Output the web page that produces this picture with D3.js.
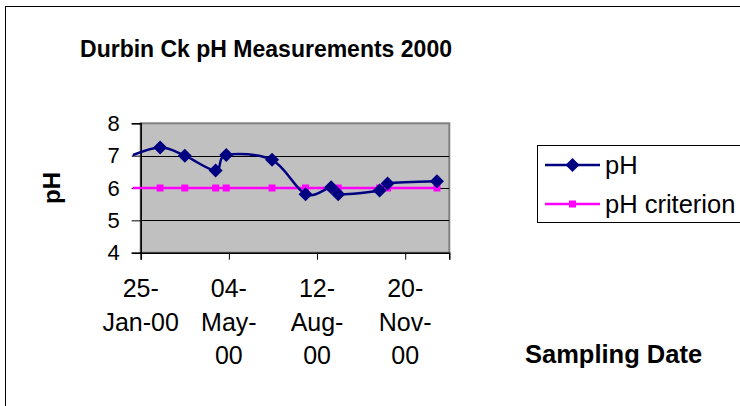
<!DOCTYPE html>
<html>
<head>
<meta charset="utf-8">
<script src="https://cdn.jsdelivr.net/npm/d3@7"></script>
<style>
  body { margin: 0; background: #fff; }
  svg { display: block; font-family: "Liberation Sans", Arial, sans-serif; }
</style>
</head>
<body>
<div id="chart"></div>
<script>
// first date sits just before the axis start, the line enters from the left edge
const sampleDates = ["2000-01-10", "2000-02-16", "2000-03-15", "2000-04-19", "2000-05-01", "2000-06-22",
  "2000-07-30", "2000-08-28", "2000-09-05", "2000-10-22", "2000-10-31", "2000-12-26"];
const phValues = [6.95, 7.25, 7.0, 6.54, 7.02, 6.87, 5.81, 6.02, 5.81, 5.92, 6.14, 6.21];
const criterionValues = [6, 6, 6, 6, 6, 6, 6, 6, 6, 6, 6, 6];
const xTickDates = ["2000-01-25", "2000-05-04", "2000-08-12", "2000-11-20"];
const xTickLabels = [["25-", "Jan-00"], ["04-", "May-", "00"], ["12-", "Aug-", "00"], ["20-", "Nov-", "00"]];
const yTicks = [4, 5, 6, 7, 8];
const seriesNames = ["pH", "pH criterion"];

const W = 740, H = 406;
const plot = { left: 140.7, right: 449.3, top: 123.3, bottom: 252.7 };
const parse = d3.timeParse("%Y-%m-%d");

const svg = d3.select("#chart").append("svg")
  .attr("width", W)
  .attr("height", H);

// chart area frame (runs off the right/bottom of the window)
svg.append("rect")
  .attr("x", 5.5).attr("y", 6.5)
  .attr("width", W).attr("height", H)
  .attr("fill", "#fff").attr("stroke", "#000");

const x = d3.scaleTime()
  .domain([parse("2000-01-25"), parse("2001-01-09")])
  .range([plot.left, plot.right]);
const y = d3.scaleLinear().domain([4, 8]).range([plot.bottom, plot.top]);

// plot area
svg.append("rect")
  .attr("x", plot.left).attr("y", plot.top)
  .attr("width", plot.right - plot.left).attr("height", plot.bottom - plot.top)
  .attr("fill", "#c0c0c0").attr("stroke", "#808080").attr("stroke-width", 2);

// gridlines
svg.append("g").selectAll("line")
  .data(yTicks.filter(d => d > 4 && d < 8))
  .join("line")
    .attr("x1", plot.left).attr("x2", plot.right)
    .attr("y1", d => Math.round(y(d)) + 0.5).attr("y2", d => Math.round(y(d)) + 0.5)
    .attr("stroke", "#000");

// y axis
const yAxis = svg.append("g")
  .attr("transform", `translate(${plot.left},0)`)
  .call(d3.axisLeft(y).tickValues(yTicks).tickSize(9).tickPadding(12).tickFormat(d3.format("d")));
yAxis.select(".domain").attr("stroke", "#000").attr("stroke-width", 1.5);
yAxis.selectAll(".tick line").attr("stroke", "#000");
yAxis.selectAll(".tick text")
  .attr("font-size", 22).attr("fill", "#000")
  .attr("font-family", "Liberation Sans, Arial, sans-serif");

// x axis
const xAxis = svg.append("g")
  .attr("transform", `translate(0,${plot.bottom})`)
  .call(d3.axisBottom(x).tickValues(xTickDates.map(parse)).tickSize(7).tickFormat(""));
xAxis.select(".domain").attr("stroke", "#000").attr("stroke-width", 1.5);
xAxis.selectAll(".tick line").attr("stroke", "#000");

const xLabels = svg.append("g")
  .attr("font-size", 25).attr("text-anchor", "middle").attr("fill", "#000");
xTickDates.forEach((d, i) => {
  const t = xLabels.append("text").attr("x", x(parse(d))).attr("y", 297);
  xTickLabels[i].forEach((line, j) => {
    t.append("tspan").attr("x", x(parse(d))).attr("dy", j === 0 ? 0 : 33.5).text(line);
  });
});

// series
svg.append("clipPath").attr("id", "clip")
  .append("rect")
    .attr("x", plot.left - 8).attr("y", 0)
    .attr("width", plot.right - plot.left + 8).attr("height", H);

const dates = sampleDates.map(parse);
const phData = dates.map((d, i) => ({ date: d, value: phValues[i] }));
const critData = dates.map((d, i) => ({ date: d, value: criterionValues[i] }));
const inside = d => d.date >= x.domain()[0];

const series = svg.append("g").attr("clip-path", "url(#clip)");

series.append("path")
  .datum(critData)
  .attr("fill", "none").attr("stroke", "#ff00ff").attr("stroke-width", 2.5)
  .attr("d", d3.line().x(d => x(d.date)).y(d => y(d.value)));

series.append("path")
  .datum(phData)
  .attr("fill", "none").attr("stroke", "#000080").attr("stroke-width", 2.5)
  .attr("d", d3.line().x(d => x(d.date)).y(d => y(d.value)).curve(d3.curveCardinal.tension(0)));

series.selectAll("rect.crit")
  .data(critData.filter(inside))
  .join("rect")
    .attr("class", "crit")
    .attr("x", d => x(d.date) - 3.5).attr("y", d => y(d.value) - 3.5)
    .attr("width", 7).attr("height", 7)
    .attr("fill", "#ff00ff");

const diamond = s => `M0,${-s}L${s},0L0,${s}L${-s},0Z`;
series.selectAll("path.ph")
  .data(phData.filter(inside))
  .join("path")
    .attr("class", "ph")
    .attr("transform", d => `translate(${x(d.date)},${y(d.value)})`)
    .attr("d", diamond(7))
    .attr("fill", "#000080");

// titles
svg.append("text")
  .attr("x", 266).attr("y", 57)
  .attr("text-anchor", "middle").attr("font-size", 23).attr("font-weight", "bold")
  .text("Durbin Ck pH Measurements 2000");

svg.append("text")
  .attr("transform", "translate(60,188) rotate(-90)")
  .attr("text-anchor", "middle").attr("font-size", 24).attr("font-weight", "bold")
  .text("pH");

svg.append("text")
  .attr("x", 525).attr("y", 363)
  .attr("font-size", 25.5).attr("font-weight", "bold")
  .text("Sampling Date");

// legend
const legend = svg.append("g");
legend.append("rect")
  .attr("x", 537.5).attr("y", 145.5)
  .attr("width", 203).attr("height", 77)
  .attr("fill", "#fff").attr("stroke", "#000");

const rowsY = [165, 204];
const colors = ["#000080", "#ff00ff"];
seriesNames.forEach((name, i) => {
  legend.append("line")
    .attr("x1", 545).attr("x2", 600)
    .attr("y1", rowsY[i]).attr("y2", rowsY[i])
    .attr("stroke", colors[i]).attr("stroke-width", 2.5);
  if (i === 0) {
    legend.append("path")
      .attr("transform", `translate(572.5,${rowsY[i]})`)
      .attr("d", diamond(7)).attr("fill", colors[i]);
  } else {
    legend.append("rect")
      .attr("x", 569).attr("y", rowsY[i] - 3.5)
      .attr("width", 7).attr("height", 7).attr("fill", colors[i]);
  }
  legend.append("text")
    .attr("x", 605).attr("y", rowsY[i] + 9)
    .attr("font-size", 25.5)
    .text(name);
});
</script>
</body>
</html>
